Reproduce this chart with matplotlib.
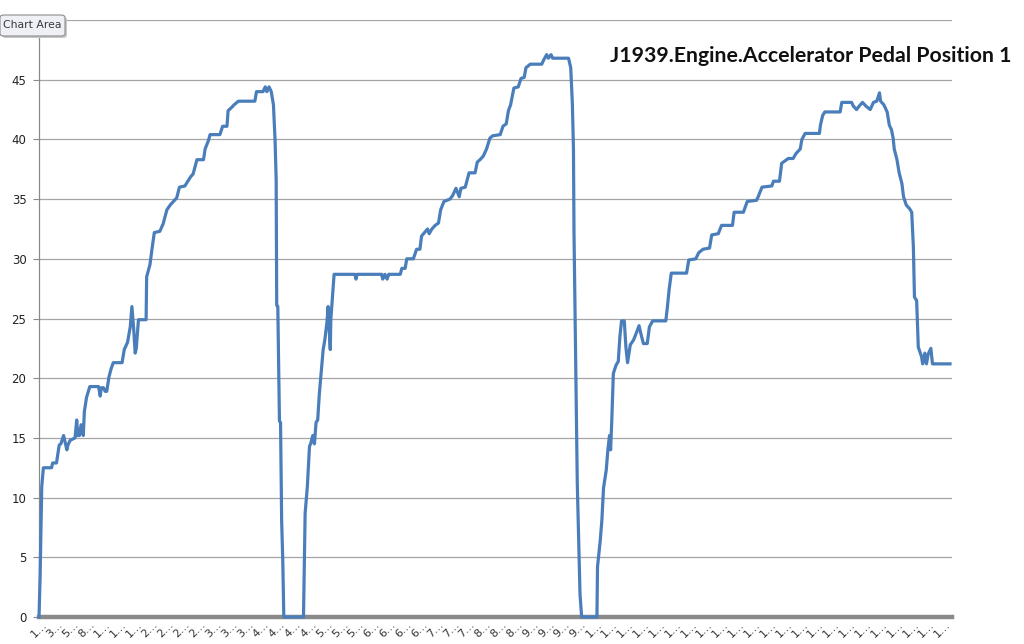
import matplotlib.pyplot as plt
from matplotlib.patches import FancyBboxPatch

# pedal position trace (sample index, %)
ramp1_x = [1, 3, 6, 9, 24, 26, 33, 35, 38, 41, 46, 49, 52, 54, 58, 67, 70, 72, 75, 78,
           82, 84, 88, 94, 110, 113, 115, 119, 122, 125, 129, 133, 137, 153, 157, 163,
           168, 171, 174, 177, 179, 183, 197, 198, 204, 208, 212, 222, 228, 235, 241,
           247, 253, 258, 268, 272, 279, 283, 290, 302, 305, 311, 314, 332, 337, 345,
           347, 354, 358, 366, 396, 399, 411, 415, 418, 422, 426, 430, 433, 435, 436,
           438, 441, 443, 445, 447, 449]
ramp1_y = [0, 3.3, 10.9, 12.5, 12.5, 12.9, 12.9, 13.5, 14.4, 14.5, 15.2, 14.6, 14.0, 14.4,
           14.8, 15.0, 16.5, 15.2, 15.2, 16.1, 15.2, 17.2, 18.4, 19.3, 19.3, 18.5, 19.2,
           19.2, 18.9, 18.9, 20.1, 20.8, 21.3, 21.3, 22.4, 23.0, 24.3, 26.0, 24.3, 22.1,
           22.5, 24.9, 24.9, 28.5, 29.5, 30.9, 32.2, 32.3, 32.9, 34.1, 34.5, 34.8, 35.1,
           36.0, 36.1, 36.4, 36.9, 37.1, 38.3, 38.3, 39.2, 39.9, 40.4, 40.4, 41.1, 41.1,
           42.4, 42.7, 42.9, 43.2, 43.2, 44.0, 44.0, 44.4, 44.0, 44.4, 44.0, 42.9, 39.9,
           36.6, 26.1, 26.0, 16.4, 16.3, 8.1, 4.9, 0]

ramp2_x = [485, 488, 492, 496, 498, 502, 505, 508, 511, 514, 518, 521, 524, 528, 530, 534,
           535, 538, 541, 579, 581, 583, 628, 630, 634, 638, 641, 662, 665, 671, 674, 686,
           689, 692, 698, 701, 712, 715, 720, 726, 732, 736, 742, 753, 758, 764, 770, 773,
           781, 788, 799, 803, 808, 814, 820, 826, 831, 845, 850, 856, 860, 864, 870, 878,
           883, 889, 892, 900, 921, 925, 930, 933, 938, 941, 970, 974, 977, 979, 980, 986,
           991, 994]
ramp2_y = [0, 8.7, 10.9, 14.3, 14.5, 15.2, 14.5, 16.3, 16.5, 18.7, 20.8, 22.4, 23.2, 24.7,
           26.0, 22.4, 24.9, 26.8, 28.7, 28.7, 28.3, 28.7, 28.7, 28.3, 28.7, 28.3, 28.7,
           28.7, 29.2, 29.2, 30.0, 30.0, 30.4, 30.8, 30.8, 31.9, 32.5, 32.1, 32.5, 32.8,
           33.0, 34.1, 34.8, 35.0, 35.3, 35.9, 35.2, 35.9, 36.0, 37.2, 37.2, 38.1, 38.3,
           38.6, 39.2, 40.1, 40.3, 40.4, 41.1, 41.3, 42.4, 42.9, 44.3, 44.4, 45.1, 45.2,
           46.0, 46.3, 46.3, 46.7, 47.1, 46.8, 47.1, 46.8, 46.8, 46.0, 43.0, 39.2, 32.2,
           11.2, 1.9, 0]

ramp3_x = [1022, 1023, 1028, 1031, 1034, 1039, 1042, 1045, 1047, 1049, 1052, 1057, 1061,
           1064, 1067, 1072, 1075, 1078, 1083, 1089, 1095, 1099, 1102, 1107, 1114, 1118,
           1124, 1148, 1151, 1154, 1158, 1186, 1190, 1203, 1208, 1216, 1228, 1232, 1244,
           1250, 1270, 1273, 1290, 1297, 1314, 1317, 1324, 1342, 1345, 1356, 1360, 1372,
           1381, 1386, 1394, 1397, 1403, 1429, 1431, 1435, 1439, 1467, 1470, 1488, 1491,
           1497, 1502, 1508, 1514, 1522, 1528, 1534, 1539, 1541, 1547, 1553, 1557, 1561,
           1564, 1566, 1571, 1575, 1580, 1583, 1588, 1594, 1598, 1601, 1603, 1607, 1610,
           1616, 1618, 1622, 1625, 1628, 1633, 1636, 1668]
ramp3_y = [0, 4.2, 6.4, 8.1, 10.8, 12.3, 14.0, 15.2, 14.0, 16.3, 20.4, 21.1, 21.4, 23.5,
           24.8, 24.8, 22.6, 21.3, 22.8, 23.2, 23.9, 24.4, 23.8, 22.9, 22.9, 24.3, 24.8,
           24.8, 26.0, 27.4, 28.8, 28.8, 29.9, 30.0, 30.5, 30.8, 30.9, 32.0, 32.1, 32.8,
           32.8, 33.9, 33.9, 34.8, 34.9, 35.2, 36.0, 36.1, 36.5, 36.5, 38.0, 38.4, 38.4,
           38.8, 39.2, 40.0, 40.5, 40.5, 41.2, 42.0, 42.3, 42.3, 43.1, 43.1, 42.8, 42.5,
           42.8, 43.1, 42.8, 42.5, 43.1, 43.2, 43.9, 43.2, 42.9, 42.3, 41.2, 40.8, 40.1,
           39.2, 38.3, 37.2, 36.3, 35.2, 34.5, 34.2, 33.9, 31.0, 26.8, 26.5, 22.6, 21.8,
           21.2, 22.1, 21.2, 22.0, 22.5, 21.2, 21.2]

sample_count = 1668
label_step = 29
y_ticks = [0, 5, 10, 15, 20, 25, 30, 35, 40, 45, 50]
y_labels = ['0', '5', '10', '15', '20', '25', '30', '35', '40', '45', '']
title = "J1939.Engine.Accelerator Pedal Position 1"

xs = ramp1_x + ramp2_x + ramp3_x
ys = ramp1_y + ramp2_y + ramp3_y

fig = plt.figure(figsize=(10.24, 6.44), dpi=100)
W, H = 1024, 644
ax = fig.add_axes([39 / W, 1 - 617 / H, (952 - 39) / W, (617 - 20) / H])

ax.plot(xs, ys, color='#4a7ebb', linewidth=2.3, zorder=3, clip_on=False)

ax.set_xlim(1, 1671.7)
ax.set_ylim(0, 50)

ax.set_yticks(y_ticks)
ax.set_yticklabels(y_labels)
ax.grid(axis='y', color='#a5a5a5', linewidth=0.9)
ax.set_axisbelow(True)

tick_samples = list(range(1, sample_count, label_step))
ax.set_xticks(tick_samples)
ax.set_xticklabels([str(v)[0] + '…' for v in tick_samples], rotation=45,
                   ha='center', fontsize=8, color='#333333')
ax.tick_params(axis='x', length=0, pad=2)
ax.tick_params(axis='y', length=4, width=0.8, color='#8a8a8a', pad=5,
               labelsize=8.5, labelcolor='#222222')

for side in ['top', 'right']:
    ax.spines[side].set_visible(False)
ax.spines['left'].set_color('#8a8a8a')
ax.spines['left'].set_linewidth(0.9)
ax.spines['bottom'].set_color('#8a8a8a')
ax.spines['bottom'].set_linewidth(3.2)
ax.spines['bottom'].set_zorder(2)

fig.text(610 / W, 1 - 56 / H, title, fontsize=15.3, fontweight='bold',
         family=['Lato', 'DejaVu Sans'], color='#111111', ha='left', va='center')

# the "Chart Area" hover label in the corner
shadow = FancyBboxPatch((2 / W, 1 - 38 / H), 65 / W, 21 / H,
                        boxstyle='round,pad=0,rounding_size=0.004',
                        transform=fig.transFigure, facecolor='#c8c8c8',
                        edgecolor='none', zorder=10)
box = FancyBboxPatch((0, 1 - 36 / H), 65 / W, 21 / H,
                     boxstyle='round,pad=0,rounding_size=0.004',
                     transform=fig.transFigure, facecolor='#eef0f5',
                     edgecolor='#8c8c8c', linewidth=0.8, zorder=11)
fig.patches.extend([shadow, box])
fig.text(32.5 / W, 1 - 25.5 / H, 'Chart Area', fontsize=7.8, color='#3a3a3a',
         ha='center', va='center', zorder=12)

fig.savefig('out.png', dpi=100, facecolor='white')
